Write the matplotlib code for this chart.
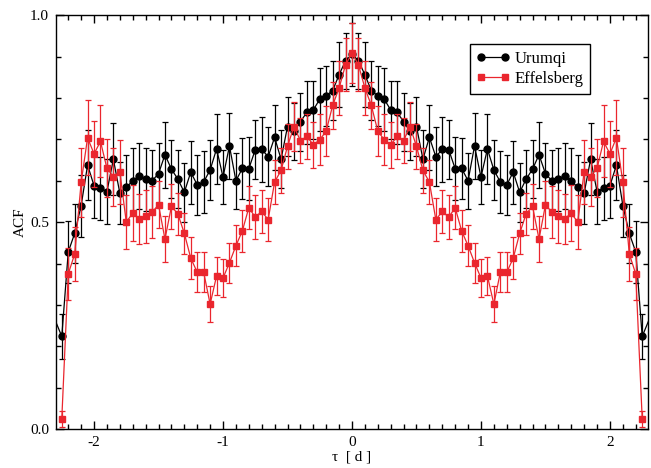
import matplotlib
matplotlib.use("Agg")
import matplotlib.pyplot as plt
import numpy as np
from matplotlib.ticker import MultipleLocator, FormatStrFormatter

plt.rcParams['font.family'] = ['Liberation Serif', 'DejaVu Serif']
plt.rcParams['axes.unicode_minus'] = False


# %%
# Autocorrelation of the two light curves, lag step 0.05 d

lag = np.round(np.linspace(-2.25, 2.25, 91), 2)
# Urumqi series runs one step further on each side (clipped by the axes)
urumqi_lag = np.round(np.linspace(-2.30, 2.30, 93), 2)

urumqi_acf = [
    0.262,
    0.224, 0.428, 0.473, 0.540, 0.638, 0.588, 0.582, 0.574, 0.652, 0.570,
    0.584, 0.600, 0.612, 0.604, 0.600, 0.617, 0.663, 0.628, 0.604, 0.572,
    0.621, 0.590, 0.597, 0.626, 0.677, 0.609, 0.684, 0.600, 0.630, 0.629,
    0.675, 0.676, 0.658, 0.705, 0.652, 0.731, 0.719, 0.743, 0.765, 0.771,
    0.797, 0.805, 0.818, 0.856, 0.890,
    0.905,
    0.890, 0.856, 0.818, 0.805, 0.797, 0.771, 0.765, 0.743, 0.719, 0.731,
    0.652, 0.705, 0.658, 0.676, 0.675, 0.629, 0.630, 0.600, 0.684, 0.609,
    0.677, 0.626, 0.597, 0.590, 0.621, 0.572, 0.604, 0.628, 0.663, 0.617,
    0.600, 0.604, 0.612, 0.600, 0.584, 0.570, 0.652, 0.574, 0.582, 0.588,
    0.638, 0.540, 0.473, 0.428, 0.224,
    0.262,
]
urumqi_err = [
    0.054,
    0.054, 0.076, 0.072, 0.075, 0.085, 0.078, 0.076, 0.078, 0.087, 0.075,
    0.078, 0.078, 0.080, 0.076, 0.075, 0.075, 0.080, 0.070, 0.070, 0.072,
    0.076, 0.072, 0.074, 0.072, 0.085, 0.065, 0.080, 0.068, 0.074, 0.076,
    0.071, 0.078, 0.071, 0.078, 0.070, 0.072, 0.070, 0.070, 0.077, 0.070,
    0.076, 0.073, 0.072, 0.078, 0.068,
    0.075,
    0.068, 0.078, 0.072, 0.073, 0.076, 0.070, 0.077, 0.070, 0.070, 0.072,
    0.070, 0.078, 0.071, 0.078, 0.071, 0.076, 0.074, 0.068, 0.080, 0.065,
    0.085, 0.072, 0.074, 0.072, 0.076, 0.072, 0.070, 0.070, 0.080, 0.075,
    0.075, 0.076, 0.080, 0.078, 0.078, 0.075, 0.087, 0.078, 0.076, 0.078,
    0.085, 0.075, 0.072, 0.076, 0.054,
    0.054,
]

effelsberg_acf = [
    0.025, 0.375, 0.423, 0.596, 0.704, 0.665, 0.695, 0.630, 0.610, 0.622,
    0.500, 0.522, 0.508, 0.514, 0.524, 0.542, 0.459, 0.538, 0.520, 0.473,
    0.413, 0.379, 0.379, 0.302, 0.370, 0.365, 0.402, 0.443, 0.479, 0.535,
    0.512, 0.526, 0.506, 0.597, 0.625, 0.683, 0.731, 0.697, 0.707, 0.687,
    0.699, 0.720, 0.782, 0.824, 0.880,
    0.908,
    0.880, 0.824, 0.782, 0.720, 0.699, 0.687, 0.707, 0.697, 0.731, 0.683,
    0.625, 0.597, 0.506, 0.526, 0.512, 0.535, 0.479, 0.443, 0.402, 0.365,
    0.370, 0.302, 0.379, 0.379, 0.413, 0.473, 0.520, 0.538, 0.459, 0.542,
    0.524, 0.514, 0.508, 0.522, 0.500, 0.622, 0.610, 0.630, 0.695, 0.665,
    0.704, 0.596, 0.423, 0.375, 0.025,
]
effelsberg_err = [
    0.019, 0.063, 0.066, 0.083, 0.091, 0.080, 0.087, 0.070, 0.070, 0.077,
    0.065, 0.068, 0.061, 0.064, 0.063, 0.057, 0.056, 0.055, 0.050, 0.050,
    0.050, 0.048, 0.048, 0.044, 0.046, 0.046, 0.048, 0.050, 0.050, 0.052,
    0.053, 0.052, 0.052, 0.052, 0.055, 0.055, 0.060, 0.055, 0.055, 0.055,
    0.062, 0.060, 0.057, 0.065, 0.064,
    0.072,
    0.064, 0.065, 0.057, 0.060, 0.062, 0.055, 0.055, 0.055, 0.060, 0.055,
    0.055, 0.052, 0.052, 0.052, 0.053, 0.052, 0.050, 0.050, 0.048, 0.046,
    0.046, 0.044, 0.048, 0.048, 0.050, 0.050, 0.050, 0.055, 0.056, 0.057,
    0.063, 0.064, 0.061, 0.068, 0.065, 0.077, 0.070, 0.070, 0.087, 0.080,
    0.091, 0.083, 0.066, 0.063, 0.019,
]

red = '#ea262e'

# %%

fig = plt.figure(figsize=(6.51, 4.68), dpi=100)
ax = fig.add_axes([0.086, 0.083, 0.9094, 0.8846])

# Urumqi: connecting line over the full range, markers/errors only inside
ax.plot(urumqi_lag, urumqi_acf, color='black', lw=0.9, zorder=2)
ax.errorbar(urumqi_lag[1:-1], urumqi_acf[1:-1], yerr=urumqi_err[1:-1],
            fmt='o', color='black', ms=5, elinewidth=0.9, capsize=2,
            capthick=0.9, zorder=3)

ax.errorbar(lag, effelsberg_acf, yerr=effelsberg_err,
            fmt='s-', color=red, ms=4.2, lw=0.9, elinewidth=0.9,
            capsize=2, capthick=0.9, zorder=4)

ax.set_xlim(-2.295, 2.295)
ax.set_ylim(0.0, 1.0)

ax.xaxis.set_major_locator(MultipleLocator(1))
ax.xaxis.set_minor_locator(MultipleLocator(0.1))
ax.yaxis.set_major_locator(MultipleLocator(0.5))
ax.yaxis.set_minor_locator(MultipleLocator(0.1))
ax.xaxis.set_major_formatter(FormatStrFormatter('%g'))
ax.yaxis.set_major_formatter(FormatStrFormatter('%.1f'))

ax.tick_params(which='both', direction='in', top=True, right=True,
               width=1, labelsize=11)
ax.tick_params(which='major', length=6, pad=5)
ax.tick_params(which='minor', length=3.5)
for s in ax.spines.values():
    s.set_linewidth(1)

ax.set_xlabel('τ  [ d ]', fontsize=11, labelpad=1)
ax.set_ylabel('ACF', fontsize=11, labelpad=2)

handles = [
    plt.Line2D([], [], color='black', marker='o', ms=5, lw=0.9),
    plt.Line2D([], [], color=red, marker='s', ms=4.2, lw=0.9),
]
leg = ax.legend(handles, ['Urumqi', 'Effelsberg'], loc='upper left',
                bbox_to_anchor=(0.699, 0.93), numpoints=2, fontsize=12,
                fancybox=False, framealpha=1, edgecolor='black',
                handlelength=2.0, handletextpad=0.3, borderpad=0.4,
                labelspacing=0.25, borderaxespad=0)
leg.get_frame().set_linewidth(1)

fig.savefig('out.png', dpi=100)
